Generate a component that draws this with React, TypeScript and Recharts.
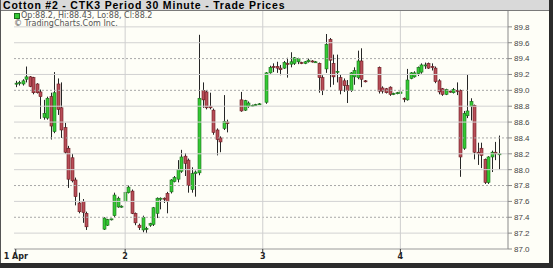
import { ComposedChart, Bar, XAxis, YAxis, ReferenceLine } from 'recharts'

// one row per 30-minute slot: [open, high, low, close], null where nothing traded
type Ohlc = [number, number, number, number] | null

const dayLabels = ['1 Apr', '2', '3', '4']
const dayStarts = [0, 31, 70, 109]
const slotCount = 140

const day1: Ohlc[] = [
  [89.08, 89.12, 89.04, 89.09],
  [89.09, 89.12, 89.06, 89.1],
  [89.08, 89.14, 89.06, 89.12],
  [89.14, 89.3, 89.1, 89.17],
  [89.17, 89.18, 89.04, 89.05],
  [89.16, 89.17, 88.95, 88.97],
  [89.08, 89.09, 88.96, 88.97],
  [88.98, 89.01, 88.64, 88.92],
  [88.66, 88.88, 88.63, 88.71],
  [88.65, 88.92, 88.63, 88.9],
  [88.92, 88.97, 88.38, 88.55],
  [88.48, 89.23, 88.46, 88.97],
  [89.08, 89.15, 88.69, 88.76],
  [88.78, 89.1, 88.4, 88.5],
  [88.53, 88.59, 88.2, 88.22],
  [88.27, 88.3, 87.77, 87.88],
  [88.15, 88.2, 87.84, 87.86],
  [87.87, 87.9, 87.55, 87.66],
  [87.58, 87.71, 87.45, 87.47],
  [87.6, 87.63, 87.33, 87.46],
  [87.45, 87.47, 87.24, 87.28],
  null,
  null,
  null,
  null,
  [87.25, 87.4, 87.24, 87.39],
  [87.3, 87.38, 87.29, 87.37],
  [87.37, 87.38, 87.36, 87.38],
  [87.42, 87.71, 87.4, 87.68],
  [87.53, 87.66, 87.52, 87.64],
  [87.53, 87.55, 87.52, 87.54],
]

const day2: Ohlc[] = [
  [87.6, 87.72, 87.59, 87.71],
  [87.71, 87.8, 87.7, 87.78],
  [87.73, 87.75, 87.44, 87.45],
  [87.45, 87.46, 87.3, 87.33],
  [87.3, 87.32, 87.24, 87.27],
  [87.24, 87.42, 87.21, 87.4],
  [87.26, 87.28, 87.2, 87.26],
  [87.3, 87.33, 87.28, 87.32],
  [87.31, 87.53, 87.29, 87.52],
  [87.45, 87.65, 87.39, 87.64],
  [87.64, 87.65, 87.5, 87.64],
  [87.64, 87.65, 87.58, 87.63],
  [87.7, 87.72, 87.45, 87.6],
  [87.72, 87.88, 87.7, 87.87],
  [87.85, 87.92, 87.84, 87.9],
  [87.88, 88.12, 87.84, 88.0],
  [87.98, 88.25, 87.96, 88.16],
  [88.17, 88.21, 87.92, 88.08],
  [88.12, 88.14, 87.71, 87.8],
  [87.75, 88.03, 87.71, 87.95],
  [87.95, 87.99, 87.66, 87.97],
  [87.96, 89.7, 87.93, 88.9],
  [89.0, 89.1, 88.78, 88.88],
  [88.98, 89.0, 88.76, 88.78],
  [88.8, 88.97, 88.76, 88.78],
  [88.75, 88.77, 88.44, 88.47],
  [88.5, 88.52, 88.18, 88.38],
  [88.4, 88.42, 88.22, 88.35],
  [88.52, 88.94, 88.5, 88.61],
  [88.6, 88.63, 88.47, 88.58],
  null,
  null,
  null,
  [88.88, 88.98, 88.73, 88.74],
  [88.75, 88.88, 88.74, 88.87],
  [88.8, 88.86, 88.78, 88.84],
  [88.8, 88.82, 88.79, 88.81],
  [88.82, 88.83, 88.81, 88.82],
  [88.83, 88.84, 88.82, 88.83],
]

const day3: Ohlc[] = [
  null,
  [88.85, 89.23, 88.83, 89.22],
  [89.22, 89.31, 89.21, 89.29],
  [89.3, 89.34, 89.23, 89.29],
  [89.3, 89.36, 89.22, 89.28],
  [89.28, 89.32, 89.19, 89.26],
  [89.28, 89.37, 89.27, 89.35],
  [89.34, 89.41, 89.16, 89.33],
  [89.33, 89.48, 89.29, 89.36],
  [89.34, 89.42, 89.32, 89.41],
  [89.36, 89.41, 89.33, 89.4],
  [89.35, 89.36, 89.33, 89.34],
  [89.34, 89.37, 89.33, 89.36],
  [89.36, 89.4, 89.35, 89.38],
  [89.37, 89.38, 89.35, 89.36],
  [89.36, 89.37, 89.35, 89.36],
  [89.34, 89.35, 88.97, 89.16],
  [89.16, 89.19, 88.94, 89.0],
  [89.27, 89.71, 89.22, 89.58],
  [89.64, 89.66, 89.04, 89.38],
  [89.34, 89.45, 89.07, 89.17],
  [89.23, 89.45, 89.1, 89.24],
  [89.16, 89.2, 88.95, 89.0],
  [89.12, 89.15, 88.98, 89.06],
  [89.06, 89.13, 88.84, 89.0],
  [89.0, 89.23, 88.98, 89.22],
  [89.17, 89.29, 89.07, 89.25],
  [89.16, 89.5, 89.14, 89.37],
  [89.37, 89.53, 89.04, 89.14],
  [89.12, 89.13, 89.1, 89.11],
  null,
  null,
  null,
  [89.29, 89.3, 88.96, 88.99],
  [89.03, 89.05, 88.96, 88.99],
  [89.02, 89.03, 88.96, 88.97],
  [89.04, 89.05, 88.93, 88.95],
  [88.95, 88.97, 88.94, 88.96],
  [88.96, 88.98, 88.95, 88.97],
]

const day4: Ohlc[] = [
  [88.96, 89.04, 88.9, 88.98],
  [88.9, 88.91, 88.85, 88.89],
  [88.88, 89.27, 88.87, 89.13],
  [89.15, 89.23, 89.14, 89.22],
  [89.17, 89.24, 89.16, 89.22],
  [89.21, 89.3, 89.18, 89.29],
  [89.23, 89.34, 89.21, 89.32],
  [89.31, 89.35, 89.27, 89.32],
  [89.34, 89.35, 89.27, 89.28],
  [89.3, 89.34, 89.25, 89.29],
  [89.28, 89.3, 89.09, 89.11],
  [89.12, 89.14, 88.95, 88.98],
  [89.02, 89.03, 88.93, 88.95],
  [88.95, 89.02, 88.94, 89.01],
  [88.99, 89.0, 88.97, 88.98],
  [88.97, 89.03, 88.96, 89.01],
  [89.0, 89.1, 88.94, 88.99],
  [89.0, 89.01, 87.91, 88.16],
  [88.27, 88.74, 88.25, 88.71],
  [88.68, 89.2, 88.65, 88.74],
  [88.8, 88.9, 88.62, 88.86],
  [88.81, 88.82, 88.13, 88.22],
  [88.22, 88.34, 88.06, 88.2],
  [88.27, 88.34, 88.02, 88.18],
  [88.13, 88.14, 87.82, 87.84],
  [87.84, 88.17, 87.82, 88.16],
  [88.16, 88.24, 87.97, 88.22],
  [88.22, 88.35, 88.12, 88.2],
  [88.2, 88.43, 88.0, 88.2],
]

const priceTicks = [87.0, 87.2, 87.4, 87.6, 87.8, 88.0, 88.2, 88.4, 88.6, 88.8, 89.0, 89.2, 89.4, 89.6, 89.8]
const dottedLevels = [87.4, 87.8, 88.4, 89.0, 89.4]

const rows: Ohlc[] = [...day1, ...day2, ...day3, ...day4]
while (rows.length < slotCount) rows.push(null)

const data = rows.map((c, slot) =>
  c ? { slot, open: c[0], high: c[1], low: c[2], close: c[3] } : { slot },
)

const last = day4[day4.length - 1] as [number, number, number, number]
const legendText = `Op:${last[0]}, Hi:${last[1]}, Lo:${last[2]}, Cl:${last[3]}`

const UP_FILL = '#34c934'
const UP_EDGE = '#1b6e1b'
const DOWN_FILL = '#b84e58'
const DOWN_EDGE = '#6a1a20'

const Candle = (props: any) => {
  const { x, y, width, height, payload } = props
  if (payload == null || payload.open == null || !height) return <g />
  const { open, high, low, close } = payload
  const k = height / (high - low)
  const py = (v: number) => y + (high - v) * k
  const cx = Math.round(x + width / 2) + 0.5
  const up = close >= open
  const top = py(Math.max(open, close))
  const bottom = py(Math.min(open, close))
  return (
    <g>
      <line x1={cx} x2={cx} y1={y} y2={y + height} stroke='#262626' strokeWidth={1} />
      <rect
        x={cx - 1.5}
        y={top}
        width={3}
        height={Math.max(bottom - top, 1)}
        fill={up ? UP_FILL : DOWN_FILL}
        stroke={up ? UP_EDGE : DOWN_EDGE}
        strokeWidth={0.6}
      />
    </g>
  )
}

const font = '"Liberation Sans", Arial, sans-serif'
const wideFont = '"DejaVu Sans", Verdana, sans-serif'

export default function App() {
  return (
    <div
      style={{
        position: 'relative',
        width: 553,
        height: 268,
        background: '#fefef7',
        overflow: 'hidden',
        fontFamily: font,
      }}
    >
      <style>{'body{margin:0}'}</style>
      <ComposedChart
        width={553}
        height={268}
        data={data}
        margin={{ top: 11, right: 0, bottom: 0, left: 14 }}
      >
        <XAxis
          dataKey='slot'
          ticks={dayStarts}
          interval={0}
          tickFormatter={(v) => dayLabels[dayStarts.indexOf(v)] ?? ''}
          tick={{ fontSize: 8, fontWeight: 'bold', fill: '#222', fontFamily: wideFont }}
          tickSize={3}
          tickMargin={1}
          height={19}
          stroke='#9a9a9a'
          tickLine={{ stroke: '#333' }}
        />
        <YAxis
          yAxisId='edge'
          orientation='left'
          width={0}
          domain={[87, 90]}
          allowDataOverflow
          tick={false}
          tickLine={false}
          stroke='#c4c4c4'
        />
        <YAxis
          yAxisId='p'
          orientation='right'
          width={45}
          domain={[87, 90]}
          allowDataOverflow
          ticks={priceTicks}
          interval={0}
          tickFormatter={(v) => v.toFixed(1)}
          tick={{ fontSize: 8, fill: '#444', fontFamily: font }}
          tickSize={4}
          tickMargin={2}
          stroke='#8a8a8a'
        />
        {priceTicks.slice(1).map((v) => (
          <ReferenceLine
            key={v}
            yAxisId='p'
            y={v}
            stroke={dottedLevels.includes(v) ? '#a8a8a8' : '#d2d2d2'}
            strokeDasharray={dottedLevels.includes(v) ? '2 2' : undefined}
          />
        ))}
        {dayStarts.slice(1).map((d) => (
          <ReferenceLine key={d} yAxisId='p' x={d} stroke='#cfcfcf' />
        ))}
        <Bar
          yAxisId='p'
          dataKey={(d: any) => (d.open == null ? null : [d.low, d.high])}
          barSize={3}
          shape={Candle}
          isAnimationActive={false}
        />
      </ComposedChart>

      {/* title strip */}
      <div
        style={{
          position: 'absolute',
          left: 0,
          top: 0,
          width: 553,
          height: 10,
          background: '#d9d9d9',
          borderBottom: '1px solid #7a7a7a',
          fontSize: 10.5,
          fontWeight: 'bold',
          lineHeight: '10px',
          letterSpacing: 0.8,
          paddingLeft: 3,
          color: '#000',
          whiteSpace: 'nowrap',
        }}
      >
        Cotton #2 - CTK3 Period 30 Minute - Trade Prices
      </div>

      {/* last-bar legend */}
      <div
        style={{
          position: 'absolute',
          left: 14,
          top: 13,
          width: 4,
          height: 4,
          background: UP_FILL,
          border: `1px solid ${UP_EDGE}`,
        }}
      />
      <div
        style={{
          position: 'absolute',
          left: 21,
          top: 11,
          fontSize: 8,
          lineHeight: '9px',
          color: '#555',
          fontFamily: wideFont,
          whiteSpace: 'nowrap',
        }}
      >
        {legendText}
      </div>
      <div
        style={{
          position: 'absolute',
          left: 14,
          top: 19,
          fontSize: 8,
          lineHeight: '9px',
          color: '#555',
          fontFamily: wideFont,
          whiteSpace: 'nowrap',
        }}
      >
        © TradingCharts.Com Inc.
      </div>

      {/* frame */}
      <div style={{ position: 'absolute', left: 0, top: 0, width: 1, height: 268, background: '#555' }} />
      <div style={{ position: 'absolute', left: 549, top: 0, width: 4, height: 268, background: '#2b2b2b' }} />
      <div style={{ position: 'absolute', left: 0, top: 263, width: 553, height: 5, background: '#2b2b2b' }} />
    </div>
  )
}
